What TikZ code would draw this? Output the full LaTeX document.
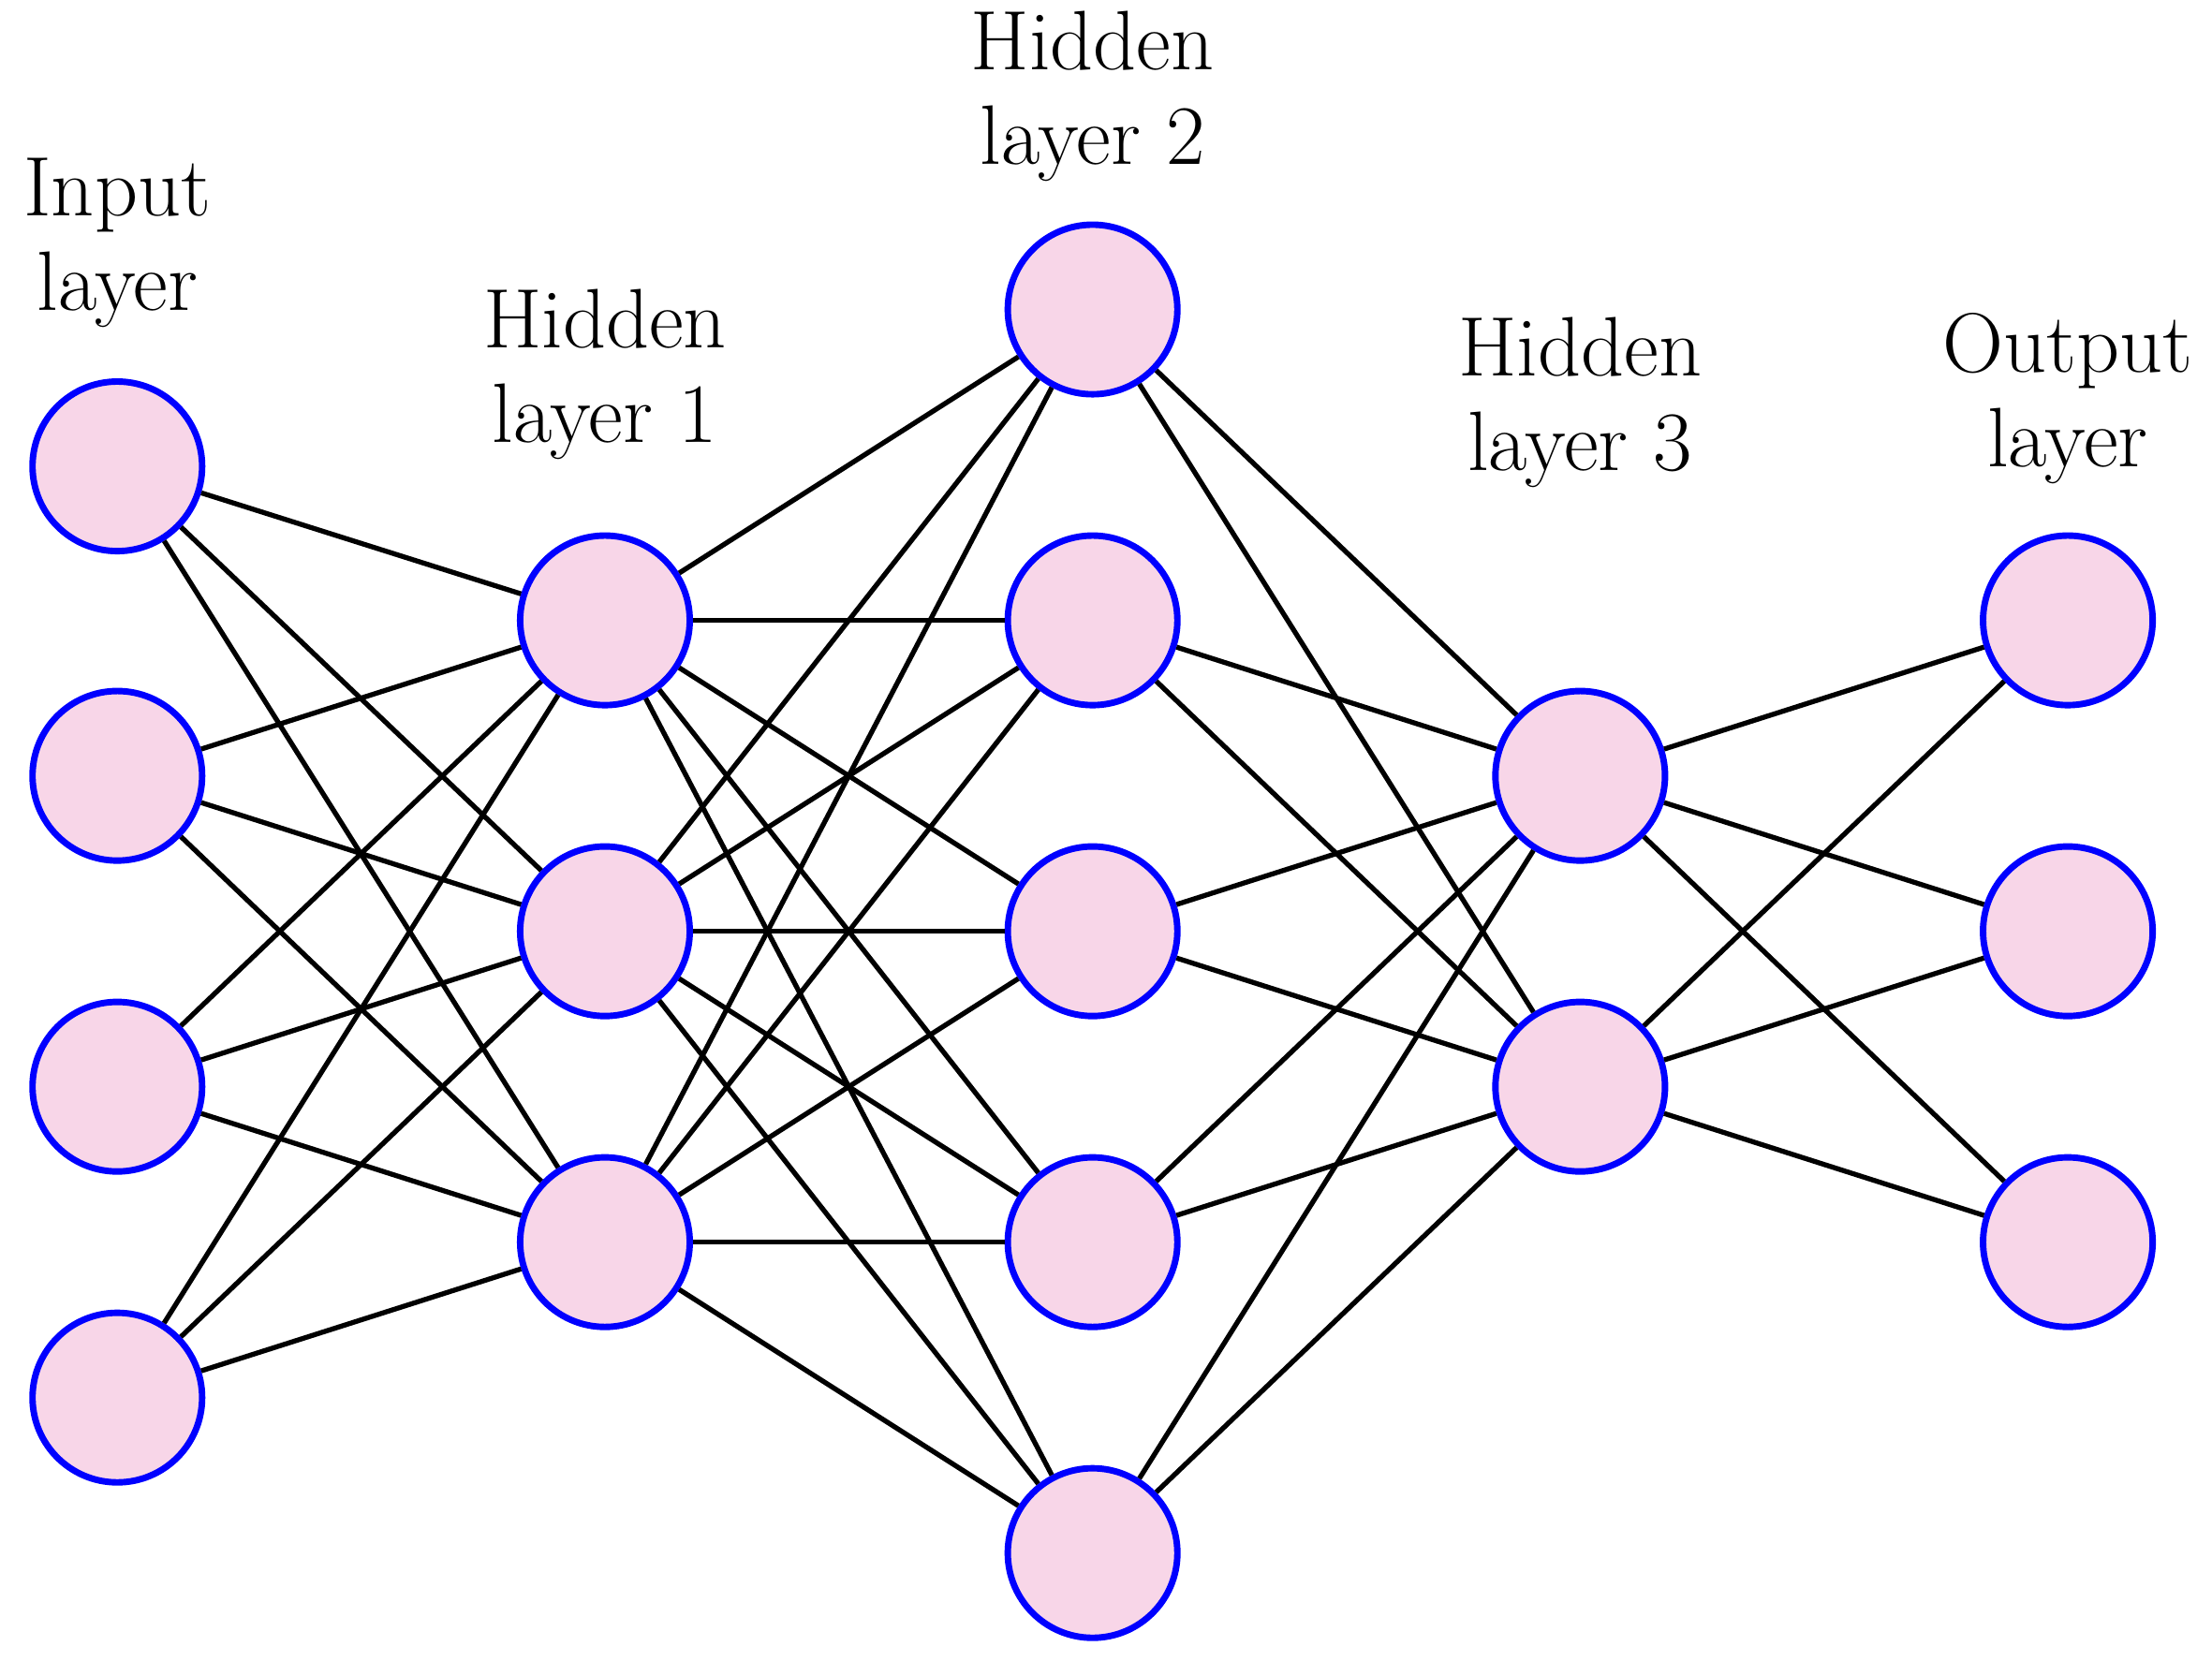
\documentclass[tikz,border=0pt]{standalone}
\begin{document}
\begin{tikzpicture}[x=1cm,y=1cm,
  neuron/.style={circle,draw=blue,fill=pinkfill,line width=1.3pt,minimum size=1.2cm,inner sep=0pt},
  conn/.style={line width=1pt,black},
  lab/.style={align=center,font=\fontsize{17}{19}\selectfont}]
\definecolor{pinkfill}{RGB}{248,214,232}
\useasboundingbox (0,0) rectangle (15.65,-11.75);
\foreach \i/\y in {1/3.30,2/5.49,3/7.69,4/9.89} \node[neuron] (I\i) at (0.83,-\y) {};
\foreach \i/\y in {1/4.39,2/6.59,3/8.79} \node[neuron] (A\i) at (4.28,-\y) {};
\foreach \i/\y in {1/2.19,2/4.39,3/6.59,4/8.79,5/10.99} \node[neuron] (B\i) at (7.73,-\y) {};
\foreach \i/\y in {1/5.49,2/7.69} \node[neuron] (C\i) at (11.18,-\y) {};
\foreach \i/\y in {1/4.39,2/6.59,3/8.79} \node[neuron] (O\i) at (14.63,-\y) {};
\foreach \a in {1,...,4} \foreach \b in {1,2,3} \draw[conn] (I\a) -- (A\b);
\foreach \a in {1,2,3} \foreach \b in {1,...,5} \draw[conn] (A\a) -- (B\b);
\foreach \a in {1,...,5} \foreach \b in {1,2} \draw[conn] (B\a) -- (C\b);
\foreach \a in {1,2} \foreach \b in {1,2,3} \draw[conn] (C\a) -- (O\b);
\node[lab] (tI) at (0.83,-1.72) {Input\\layer};
\node[lab] (tA) at (4.28,-2.65) {Hidden\\layer 1};
\node[lab] (tB) at (7.73,-0.68) {Hidden\\layer 2};
\node[lab] (tC) at (11.18,-2.85) {Hidden\\layer 3};
\node[lab] (tO) at (14.63,-2.82) {Output\\layer};
\end{tikzpicture}
\end{document}
